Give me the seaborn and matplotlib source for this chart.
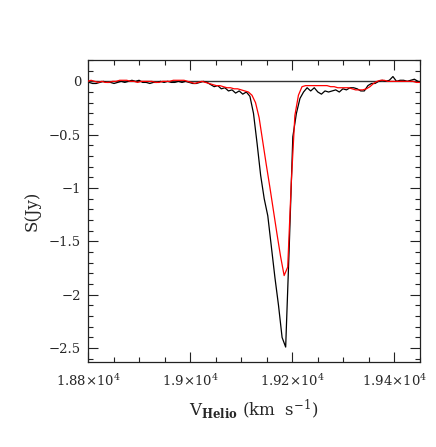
import matplotlib
matplotlib.use("Agg")
import matplotlib.pyplot as plt
import seaborn as sns
from matplotlib.ticker import MultipleLocator

# ---- data ----
vel_black = [18802, 18809, 18816, 18823, 18830, 18837, 18844, 18851, 18858, 18865,
             18872, 18879, 18886, 18893, 18900, 18907, 18914, 18921, 18928, 18935,
             18942, 18949, 18956, 18963, 18970, 18977, 18984, 18991, 18998, 19005,
             19012, 19019, 19026, 19033, 19040, 19047, 19054, 19061, 19068, 19075,
             19082, 19089, 19096, 19103, 19110, 19117, 19124, 19131, 19138, 19145,
             19152, 19159, 19166, 19173, 19180, 19187, 19194, 19201, 19208, 19215,
             19222, 19229, 19236, 19243, 19250, 19257, 19264, 19271, 19278, 19285,
             19292, 19299, 19306, 19313, 19320, 19327, 19334, 19341, 19348, 19355,
             19362, 19369, 19376, 19383, 19390, 19397, 19404, 19411, 19418, 19425,
             19432, 19439, 19446, 19453]
flux_black = [-0.01, -0.02, -0.02, -0.01, 0.00, -0.01, -0.01, -0.02, -0.01, 0.00,
              -0.01, 0.00, 0.01, 0.00, 0.01, -0.01, -0.01, -0.02, -0.01, -0.01,
              0.00, -0.01, 0.00, -0.01, -0.01, 0.00, -0.01, 0.00, -0.01, -0.02,
              -0.02, -0.01, 0.00, -0.01, -0.03, -0.05, -0.04, -0.07, -0.06, -0.09,
              -0.08, -0.11, -0.09, -0.12, -0.10, -0.14, -0.30, -0.58, -0.88, -1.10,
              -1.26, -1.55, -1.84, -2.10, -2.40, -2.49, -1.55, -0.52, -0.30, -0.16,
              -0.10, -0.06, -0.09, -0.06, -0.10, -0.12, -0.09, -0.10, -0.09, -0.08,
              -0.10, -0.07, -0.08, -0.06, -0.06, -0.07, -0.09, -0.09, -0.04, -0.02,
              -0.02, 0.00, 0.01, 0.00, 0.01, 0.045, 0.00, 0.01, 0.01, 0.00,
              0.01, 0.02, 0.00, -0.01]

vel_red = [18799, 18806, 18813, 18820, 18827, 18834, 18841, 18848, 18855, 18862,
           18869, 18876, 18883, 18890, 18897, 18904, 18911, 18918, 18925, 18932,
           18939, 18946, 18953, 18960, 18967, 18974, 18981, 18988, 18995, 19002,
           19009, 19016, 19023, 19030, 19037, 19044, 19051, 19058, 19065, 19072,
           19079, 19086, 19093, 19100, 19107, 19114, 19121, 19128, 19135, 19142,
           19149, 19156, 19163, 19170, 19177, 19184, 19191, 19198, 19205, 19212,
           19219, 19226, 19233, 19240, 19247, 19254, 19261, 19268, 19275, 19282,
           19289, 19296, 19303, 19310, 19317, 19324, 19331, 19338, 19345, 19352,
           19359, 19366, 19373, 19380, 19387, 19394, 19401, 19408, 19415, 19422,
           19429, 19436, 19443, 19450]
flux_red = [0.00, 0.01, 0.00, -0.01, 0.00, -0.01, -0.01, 0.00, 0.00, 0.01,
            0.01, 0.01, 0.00, 0.00, -0.01, 0.00, 0.00, 0.00, 0.00, -0.01,
            -0.01, 0.00, 0.00, 0.00, 0.01, 0.01, 0.01, 0.01, 0.00, -0.01,
            -0.02, -0.01, 0.00, -0.01, -0.02, -0.03, -0.04, -0.04, -0.05, -0.06,
            -0.06, -0.07, -0.07, -0.08, -0.09, -0.10, -0.13, -0.20, -0.34, -0.56,
            -0.78, -0.99, -1.21, -1.43, -1.64, -1.82, -1.74, -0.95, -0.32, -0.13,
            -0.05, -0.04, -0.04, -0.04, -0.04, -0.04, -0.04, -0.04, -0.05, -0.05,
            -0.06, -0.06, -0.06, -0.06, -0.07, -0.08, -0.08, -0.08, -0.07, -0.05,
            -0.02, 0.00, 0.01, 0.01, 0.00, 0.00, 0.00, 0.00, 0.00, 0.00,
            0.00, 0.00, -0.01, -0.01]

xtick_vals = [18800, 19000, 19200, 19400]
xtick_labels = ["1.88\u00d710$^{4}$", "1.9\u00d710$^{4}$",
                "1.92\u00d710$^{4}$", "1.94\u00d710$^{4}$"]
ytick_vals = [0, -0.5, -1, -1.5, -2, -2.5]
ytick_labels = ["0", "\u22120.5", "\u22121", "\u22121.5", "\u22122", "\u22122.5"]

# ---- style ----
sns.set_style("ticks")
plt.rcParams["font.family"] = ["DejaVu Serif"]
plt.rcParams["mathtext.fontset"] = "dejavuserif"

fig = plt.figure(figsize=(4.36, 4.47), dpi=100)
ax = fig.add_axes([88 / 436, 1 - 362 / 447, (420 - 88) / 436, (362 - 60) / 447])

ax.axhline(0, color="#333333", lw=1.0, zorder=1)
sns.lineplot(x=vel_black, y=flux_black, color="black", lw=0.9, ax=ax,
             sort=False, estimator=None, zorder=2)
sns.lineplot(x=vel_red, y=flux_red, color="#ff0000", lw=0.9, ax=ax,
             sort=False, estimator=None, zorder=3)

ax.set_xlim(18800, 19450)
ax.set_ylim(-2.63, 0.2)

ax.set_xticks(xtick_vals)
ax.set_xticklabels(xtick_labels, fontsize=9.5)
ax.set_yticks(ytick_vals)
ax.set_yticklabels(ytick_labels, fontsize=9.5)
ax.xaxis.set_minor_locator(MultipleLocator(50))
ax.yaxis.set_minor_locator(MultipleLocator(0.1))

ax.tick_params(which="both", direction="in", top=True, right=True,
               color="#222222", width=0.8)
ax.tick_params(which="major", length=7.2)
ax.tick_params(which="minor", length=3.6)
ax.tick_params(axis="x", which="major", pad=8)
ax.tick_params(axis="y", which="major", pad=5)

for s in ax.spines.values():
    s.set_color("#222222")
    s.set_linewidth(0.9)

ax.set_xlabel(r"V$_{\mathbf{Helio}}$ (km  s$^{-1}$)", fontsize=12, labelpad=6)
ax.set_ylabel("S(Jy)", fontsize=12, labelpad=6)

fig.savefig("out.png", dpi=100)
